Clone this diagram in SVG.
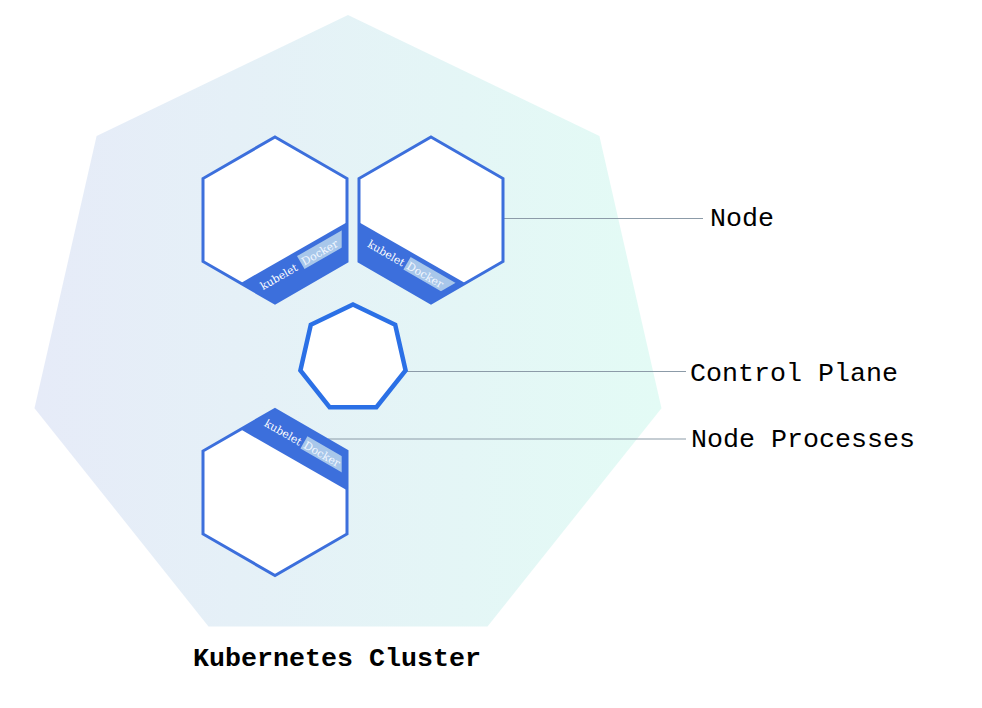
<svg xmlns="http://www.w3.org/2000/svg" width="982" height="708" viewBox="0 0 982 708">
  <style>
    .hex{fill:#ffffff;stroke:#3c6fdc;stroke-width:3;stroke-linejoin:miter}
    .band{fill:#3c6fdc}
    .box{fill:#a8c7ea}
    .kub{font-family:"DejaVu Serif","Liberation Serif",serif;font-size:10.8px;fill:#ffffff}
    .dock{font-family:"DejaVu Serif","Liberation Serif",serif;font-size:11px;fill:#f2f7ff}
    .conn{stroke:#8c9ba8;stroke-width:1.2;fill:none}
    .lbl{font-family:"Liberation Mono","Courier New",monospace;font-size:26.67px;fill:#000000}
    .title{font-family:"Liberation Mono","Courier New",monospace;font-size:26.67px;font-weight:bold;fill:#000000}
  </style>
  <defs>
    <linearGradient id="bg" gradientUnits="userSpaceOnUse" x1="35" y1="0" x2="662" y2="0">
      <stop offset="0" stop-color="#e6ebf8"/>
      <stop offset="1" stop-color="#e3fbf5"/>
    </linearGradient>
    <clipPath id="c1"><polygon points="275,143 341.7,181.5 341.7,258.5 275,297 208.3,258.5 208.3,181.5"/></clipPath>
    <clipPath id="c2"><polygon points="431,143 497.7,181.5 497.7,258.5 431,297 364.3,258.5 364.3,181.5"/></clipPath>
    <clipPath id="c3"><polygon points="275,415.5 341.7,454 341.7,531 275,569.5 208.3,531 208.3,454"/></clipPath>
  </defs>

  <g id="cluster">
    <polygon points="348,15 599.4,136.1 661.5,408.2 487.5,626.4 208.5,626.4 34.5,408.2 96.6,136.1" fill="url(#bg)"/>
    <text class="title" x="193" y="666">Kubernetes Cluster</text>
  </g>

  <g id="connectors">
    <line class="conn" x1="503" y1="218.5" x2="703" y2="218.5"/>
    <line class="conn" x1="405" y1="371.5" x2="686" y2="371.5"/>
    <line class="conn" x1="328" y1="439" x2="686" y2="439"/>
  </g>

  <g id="node1">
    <polygon class="hex" points="275,137 347,178.5 347,261.5 275,303 203,261.5 203,178.5"/>
    <polygon class="band" points="347,222.2 347,261.5 275,303 240.6,283.2"/>
    <g clip-path="url(#c1)">
      <g transform="translate(275 303) rotate(-30)">
        <rect class="box" x="42.5" y="-29.6" width="70" height="15"/>
        <text class="kub" x="-4" y="-17">kubelet</text>
        <text class="dock" x="44" y="-17.5">Docker</text>
      </g>
    </g>
  </g>

  <g id="node2">
    <polygon class="hex" points="431,137 503,178.5 503,261.5 431,303 359,261.5 359,178.5"/>
    <polygon class="band" points="359,222.2 359,261.5 431,303 465.4,283.2"/>
    <g clip-path="url(#c2)">
      <g transform="translate(359 261.5) rotate(30)">
        <rect class="box" x="42.5" y="-29.7" width="70" height="14.5"/>
        <text class="kub" x="-1" y="-17">kubelet</text>
        <text class="dock" x="44" y="-17.5">Docker</text>
      </g>
    </g>
  </g>

  <g id="control-plane">
    <polygon points="353,304.5 395.2,324.8 405.6,370.5 376.4,407.2 329.6,407.2 300.4,370.5 310.8,324.8" fill="#ffffff" stroke="#2b70e6" stroke-width="4.5" stroke-linejoin="miter"/>
  </g>

  <g id="node3">
    <polygon class="hex" points="275,409.5 347,451 347,534 275,575.5 203,534 203,451"/>
    <polygon class="band" points="347,490.3 347,451 275,409.5 240.6,429.3"/>
    <g clip-path="url(#c3)">
      <g transform="translate(275 409.5) rotate(30)">
        <rect class="box" x="41.5" y="7" width="70" height="14"/>
        <text class="kub" x="-2" y="19.5">kubelet</text>
        <text class="dock" x="43" y="19">Docker</text>
      </g>
    </g>
  </g>

  <g id="labels">
    <text class="lbl" x="710" y="226">Node</text>
    <text class="lbl" x="690" y="381">Control Plane</text>
    <text class="lbl" x="691" y="447">Node Processes</text>
  </g>
</svg>
